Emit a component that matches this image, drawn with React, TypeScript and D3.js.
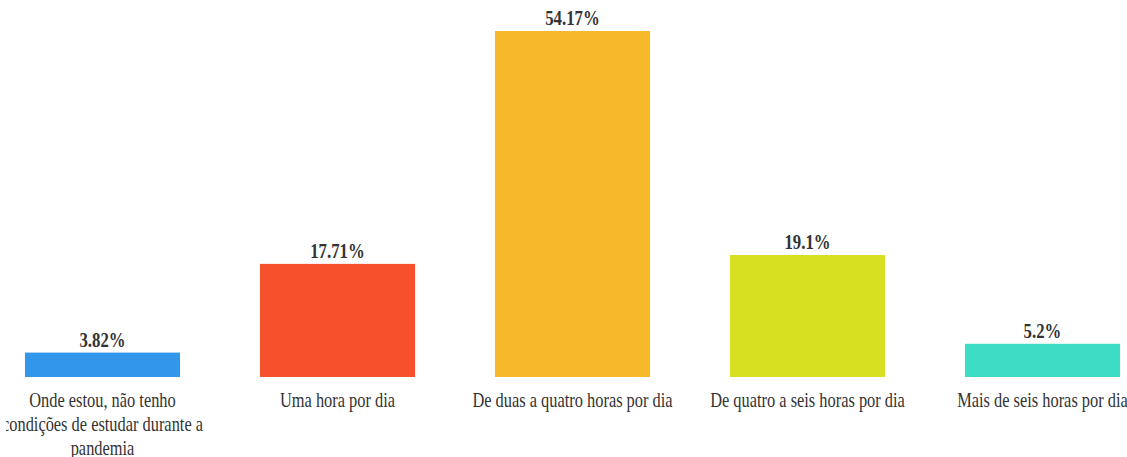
import React, { useEffect, useRef } from 'react';
import * as d3 from 'd3';

// line breaks as in the original labels
const categories = [
  'Onde estou, não tenho\ncondições de estudar durante a\npandemia',
  'Uma hora por dia',
  'De duas a quatro horas por dia',
  'De quatro a seis horas por dia',
  'Mais de seis horas por dia',
];
const values = [3.82, 17.71, 54.17, 19.1, 5.2];
const colors = ['#3297eb', '#f6502c', '#f6b92b', '#d8e022', '#3ddcc4'];

const width = 1127;
const height = 457;

export default function App() {
  const svgRef = useRef<SVGSVGElement>(null);

  useEffect(() => {
    if (!svgRef.current) return;
    const svg = d3.select(svgRef.current);
    svg.selectAll('*').remove();

    const x = d3.scaleBand<string>()
      .domain(categories)
      .range([-15, 1160])
      .paddingInner(0.34)
      .paddingOuter(0.17);

    const y = d3.scaleLinear()
      .domain([0, 54.17])
      .range([377, 31]);

    const fontFamily = '"Liberation Serif", "Times New Roman", serif';

    // clip on the left like the original container
    svg.append('defs').append('clipPath').attr('id', 'area')
      .append('rect').attr('x', 6).attr('y', 0).attr('width', width - 6).attr('height', height);
    const g = svg.append('g').attr('clip-path', 'url(#area)');

    // bars
    g.selectAll('.bar')
      .data(values)
      .enter()
      .append('rect')
      .attr('class', 'bar')
      .attr('x', (d, i) => x(categories[i])!)
      .attr('y', d => y(d))
      .attr('width', x.bandwidth())
      .attr('height', d => y(0) - y(d))
      .attr('fill', (d, i) => colors[i]);

    // value labels (narrow serif)
    g.selectAll('.val')
      .data(values)
      .enter()
      .append('text')
      .attr('class', 'val')
      .attr('transform', (d, i) => `translate(${x(categories[i])! + x.bandwidth() / 2},${y(d) - 6}) scale(0.84,1)`)
      .attr('text-anchor', 'middle')
      .attr('font-family', fontFamily)
      .attr('font-size', 20)
      .attr('font-weight', 'bold')
      .attr('fill', '#333')
      .text(d => `${d}%`);

    // category labels
    const sx = 0.82;
    categories.forEach(c => {
      const cx = x(c)! + x.bandwidth() / 2;
      const t = g.append('text')
        .attr('transform', `translate(${cx},407) scale(${sx},1)`)
        .attr('text-anchor', 'middle')
        .attr('font-family', fontFamily)
        .attr('font-size', 20)
        .attr('fill', '#333');
      c.split('\n').forEach((line, j) => {
        t.append('tspan').attr('x', 0).attr('dy', j === 0 ? 0 : 24).text(line);
      });
    });
  }, []);

  return (
    <svg
      ref={svgRef}
      width={width}
      height={height}
      style={{ position: 'fixed', left: 0, top: 0, background: '#fff' }}
    />
  );
}
